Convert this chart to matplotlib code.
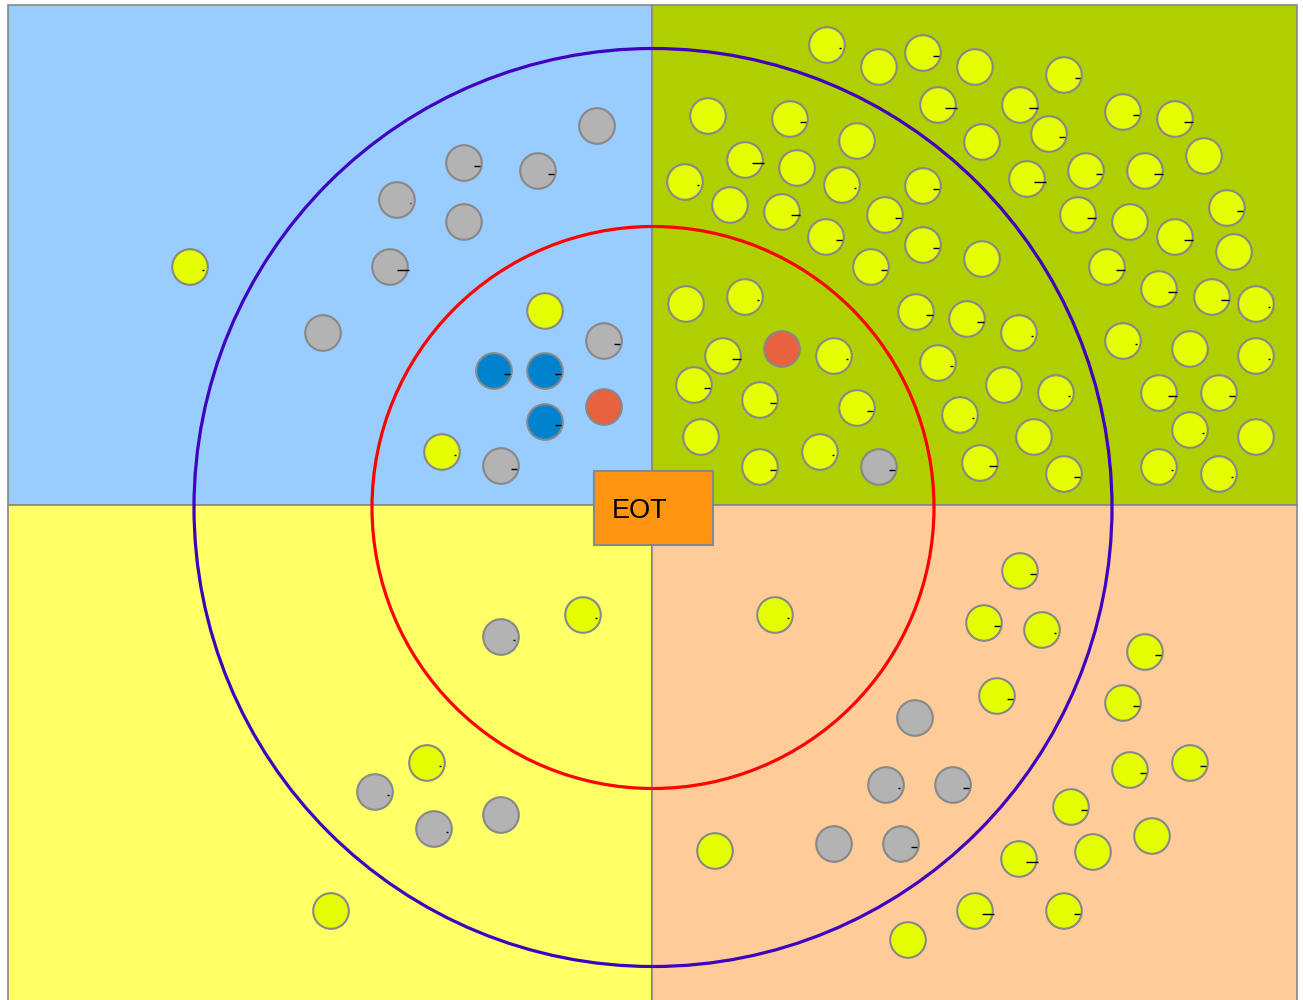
import matplotlib
matplotlib.use("Agg")
import matplotlib.pyplot as plt
from matplotlib.patches import Rectangle, Circle

# ---- data (pixel-space diagram coordinates) ----
quad_names = ["top_left", "top_right", "bottom_left", "bottom_right"]
quad_colors = ["#99CCFF", "#AFCF00", "#FFFF66", "#FFCC99"]

center_label = "EOT"
ring_radii = [281, 459]
ring_colors = ["#FF0000", "#3F00BF"]

kind_colors = {"y": "#E5FF00", "g": "#B3B3B3", "b": "#0082CE", "r": "#E8623F"}

# top-left quadrant
tl_x = [190, 597, 464, 538, 397, 464, 390, 323, 545, 604, 494, 545, 545, 604, 442, 501]
tl_y = [267, 126, 163, 171, 200, 222, 267, 333, 311, 341, 371, 371, 422, 407, 452, 466]
tl_k = ["y", "g", "g", "g", "g", "g", "g", "g", "y", "g", "b", "b", "b", "r", "y", "g"]
tl_m = [2, 0, 6, 6, 1, 0, 12, 0, 0, 6, 6, 6, 6, 0, 2, 6]

# top-right quadrant
tr_x = [827, 879, 923, 975, 708, 790, 857, 938, 745, 797, 685, 730, 842, 923, 782, 885,
        826, 923, 871, 982, 1064, 1020, 1049, 982, 1123, 1175, 1204, 1027, 1086, 1145,
        1078, 1130, 1175, 1227, 1234, 1107, 1159, 1212, 1256, 967, 1019, 1123, 1190,
        1256, 1004, 1056, 1159, 1219, 960, 1190, 1256, 1034, 980, 1064, 1159, 1219,
        686, 745, 782, 723, 834, 694, 760, 857, 701, 760, 820, 879, 916, 938]
tr_y = [45, 67, 53, 67, 116, 119, 141, 105, 160, 168, 182, 205, 185, 186, 212, 215,
        237, 245, 267, 259, 75, 105, 134, 142, 112, 119, 156, 179, 171, 171,
        215, 222, 237, 208, 252, 267, 289, 297, 304, 319, 333, 341, 349,
        356, 385, 393, 393, 393, 415, 430, 437, 437, 463, 474, 467, 474,
        304, 297, 349, 356, 356, 385, 400, 408, 437, 467, 452, 467, 312, 363]
tr_k = ["y"] * 56 + ["y", "y", "r", "y", "y", "y", "y", "y", "y", "y", "y", "g", "y", "y"]
tr_m = [2, 0, 6, 0, 0, 6, 0, 12, 12, 0, 2, 0, 2, 6, 9, 6,
        6, 6, 6, 0, 5, 9, 6, 0, 6, 9, 0, 12, 6, 9,
        9, 0, 9, 6, 0, 9, 9, 8, 2, 7, 2, 2, 0,
        2, 0, 2, 9, 6, 2, 2, 0, 0, 8, 6, 2, 2,
        0, 2, 0, 9, 2, 6, 6, 6, 0, 6, 2, 6, 7, 3]

# bottom-left quadrant
bl_x = [583, 501, 427, 375, 434, 501, 331]
bl_y = [615, 637, 763, 792, 829, 815, 911]
bl_k = ["y", "g", "y", "g", "g", "g", "y"]
bl_m = [2, 2, 2, 2, 2, 0, 0]

# bottom-right quadrant
br_x = [775, 1020, 984, 1042, 1145, 997, 1123, 915, 886, 953, 1130, 1190, 1071, 901,
        1019, 1093, 1152, 975, 1064, 908, 834, 715]
br_y = [615, 571, 623, 630, 652, 696, 703, 718, 785, 785, 770, 763, 807, 844,
        859, 852, 836, 911, 911, 940, 844, 851]
br_k = ["y", "y", "y", "y", "y", "y", "y", "g", "g", "g", "y", "y", "y", "g",
        "y", "y", "y", "y", "y", "y", "g", "y"]
br_m = [2, 6, 6, 2, 6, 6, 6, 0, 2, 6, 6, 6, 6, 6,
        12, 0, 0, 12, 6, 0, 0, 0]

# ---- figure ----
W, H = 1303, 1000
fig = plt.figure(figsize=(W / 100, H / 100), dpi=100)
ax = fig.add_axes([0, 0, 1, 1])
ax.set_xlim(0, W)
ax.set_ylim(H, 0)
ax.set_aspect("equal")
ax.axis("off")
fig.patch.set_facecolor("white")

left, top, right, bottom = 8, 5, 1297, 1010
cx, cy = 652, 505
quad_rects = [(left, top, cx - left, cy - top), (cx, top, right - cx, cy - top),
              (left, cy, cx - left, bottom - cy), (cx, cy, right - cx, bottom - cy)]
for (x0, y0, w, h), col in zip(quad_rects, quad_colors):
    ax.add_patch(Rectangle((x0, y0), w, h, facecolor=col, edgecolor="#888888",
                           linewidth=1.2, zorder=1))

rcx, rcy = 653, 507.5
for r, col in zip(ring_radii, ring_colors):
    ax.add_patch(Circle((rcx, rcy), r, facecolor="none", edgecolor=col,
                        linewidth=2.3, zorder=2))

all_x = tl_x + tr_x + bl_x + br_x
all_y = tl_y + tr_y + bl_y + br_y
all_k = tl_k + tr_k + bl_k + br_k
all_m = tl_m + tr_m + bl_m + br_m
for x, y, k, m in zip(all_x, all_y, all_k, all_m):
    ax.add_patch(Circle((x, y), 17.8, facecolor=kind_colors[k], edgecolor="#888888",
                        linewidth=1.5, zorder=3))
    if m > 0:
        ax.plot([x + 13 - m / 2, x + 13 + m / 2], [y + 2.5, y + 2.5], color="black",
                linewidth=1.0, solid_capstyle="butt", zorder=4)

ax.add_patch(Rectangle((594, 471), 119, 74, facecolor="#FF9411", edgecolor="#888888",
                       linewidth=1.5, zorder=5))
ax.text(612, 511, center_label, fontsize=19.5, family=["Liberation Sans", "DejaVu Sans"],
        ha="left", va="center", color="black", zorder=6)

fig.savefig("out.png", dpi=100)
